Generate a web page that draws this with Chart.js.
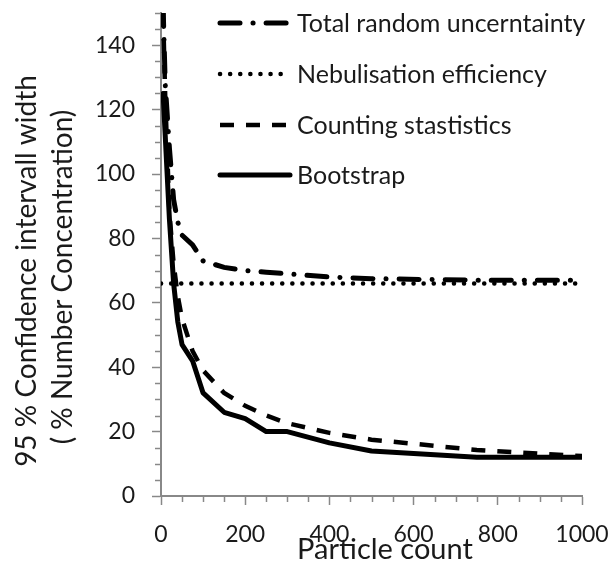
<!DOCTYPE html>
<html>
<head>
<meta charset="utf-8">
<script src="https://cdn.jsdelivr.net/npm/chart.js@4.4.1/dist/chart.umd.min.js"></script>
<style>
html,body{margin:0;padding:0;background:#fff;}
#wrap{width:611px;height:564px;position:relative;}
</style>
</head>
<body>
<div id="wrap"><canvas id="c" width="611" height="564"></canvas></div>
<script>
const particleCounts = [5, 10, 20, 30, 40, 50, 75, 100, 150, 200, 250, 300, 400, 500, 750, 1000];
const totalRandom    = [152, 128, 108, 92, 85, 81, 78, 73, 71, 70, 69.5, 69, 68, 67.5, 67, 67];
const nebCounts      = [0, 1000];
const nebEfficiency  = [66, 66];
const countingStats  = [150, 124, 88, 72, 62, 55, 45, 39, 32, 28, 25, 22.6, 19.6, 17.5, 14.3, 12.4];
const bootstrap      = [125, 112, 86, 66, 54, 47, 42, 32, 26, 24, 20, 20, 16.5, 14, 12, 12];
const seriesNames = ['Total random uncerntainty', 'Nebulisation efficiency', 'Counting stastistics', 'Bootstrap'];
const yTitle = ['95 % Confidence intervall width', '( % Number Concentration)'];
const xTitle = 'Particle count';

const pts = (xs, ys) => xs.map((x, i) => ({x: x, y: ys[i]}));
const FONT = 'Lato';
const AXIS = '#888888';
const TEXT = '#1a1a1a';

const legendPlugin = {
  id: 'sideLegend',
  afterDraw(chart) {
    const ctx = chart.ctx;
    const x0 = 220, x1 = 290, tx = 297;
    const rows = [23, 74, 125, 175];
    chart.data.datasets.forEach((ds, i) => {
      const y = rows[i];
      ctx.save();
      ctx.strokeStyle = ds.borderColor;
      ctx.lineWidth = ds.borderWidth;
      ctx.lineCap = ds.borderCapStyle || 'butt';
      ctx.setLineDash(ds.borderDash || []);
      ctx.beginPath();
      ctx.moveTo(x0, y);
      ctx.lineTo(x1, y);
      ctx.stroke();
      ctx.restore();
      ctx.save();
      ctx.fillStyle = TEXT;
      ctx.font = '25px ' + FONT;
      ctx.textBaseline = 'middle';
      ctx.fillText(ds.label, tx, y + 1);
      ctx.restore();
    });
  }
};

const titlesPlugin = {
  id: 'axisTitles',
  afterDraw(chart) {
    const ctx = chart.ctx;
    ctx.save();
    ctx.fillStyle = TEXT;
    ctx.textAlign = 'center';
    ctx.textBaseline = 'alphabetic';
    ctx.font = '28px ' + FONT;
    const yPos = [[36, 271], [72, 277]];
    yTitle.forEach((t, i) => {
      ctx.save();
      ctx.translate(yPos[i][0], yPos[i][1]);
      ctx.rotate(-Math.PI / 2);
      ctx.fillText(t, 0, 0);
      ctx.restore();
    });
    ctx.font = '29px ' + FONT;
    ctx.fillText(xTitle, 385, 559);
    ctx.restore();
  }
};

const minorTicks = {
  id: 'minorTicks',
  afterDraw(chart) {
    const ctx = chart.ctx;
    const ys = chart.scales.y, xs = chart.scales.x;
    ctx.save();
    ctx.strokeStyle = AXIS;
    ctx.lineWidth = 1.5;
    for (let v = 0; v <= 150; v += 5) {
      if (v % 20 === 0) continue;
      const p = Math.round(ys.getPixelForValue(v)) + 0.5;
      ctx.beginPath(); ctx.moveTo(ys.right - 6, p); ctx.lineTo(ys.right, p); ctx.stroke();
    }
    for (let v = 0; v <= 1000; v += 50) {
      if (v % 200 === 0) continue;
      const p = Math.round(xs.getPixelForValue(v)) + 0.5;
      ctx.beginPath(); ctx.moveTo(p, xs.top); ctx.lineTo(p, xs.top + 6); ctx.stroke();
    }
    ctx.restore();
  }
};

new Chart(document.getElementById('c'), {
  type: 'line',
  data: {
    datasets: [
      { label: seriesNames[0], data: pts(particleCounts, totalRandom), borderColor: '#000', borderWidth: 5,
        borderDash: [20, 13, 0.1, 13], borderCapStyle: 'round', pointRadius: 0, tension: 0 },
      { label: seriesNames[1], data: pts(nebCounts, nebEfficiency), borderColor: '#000', borderWidth: 4.5,
        borderDash: [0.1, 10], borderCapStyle: 'round', pointRadius: 0, tension: 0 },
      { label: seriesNames[2], data: pts(particleCounts, countingStats), borderColor: '#000', borderWidth: 4.5,
        borderDash: [14, 12], borderCapStyle: 'butt', pointRadius: 0, tension: 0 },
      { label: seriesNames[3], data: pts(particleCounts, bootstrap), borderColor: '#000', borderWidth: 5,
        borderCapStyle: 'round', borderJoinStyle: 'round', pointRadius: 0, tension: 0 }
    ]
  },
  options: {
    responsive: false,
    animation: false,
    devicePixelRatio: 1,
    layout: { padding: { top: 13, right: 29, left: 0, bottom: 0 } },
    plugins: { legend: { display: false }, tooltip: { enabled: false } },
    scales: {
      x: {
        type: 'linear', min: 0, max: 1000,
        border: { color: AXIS, width: 2 },
        grid: { drawOnChartArea: false, color: AXIS, tickLength: 9, tickWidth: 1.5 },
        ticks: { stepSize: 200, color: TEXT, font: { family: FONT, size: 23 }, padding: 16, maxRotation: 0,
                 callback: (v) => String(v) },
        title: { display: false },
        afterFit(s) { s.height = 68; s.paddingLeft = 0; s.paddingRight = 0; }
      },
      y: {
        type: 'linear', min: 0, max: 150,
        border: { color: AXIS, width: 2 },
        grid: { drawOnChartArea: false, tickLength: 9, tickWidth: 1.5,
                tickColor: (c) => (c.tick && c.tick.value % 20 === 0) ? AXIS : 'rgba(0,0,0,0)' },
        ticks: { stepSize: 20, color: TEXT, font: { family: FONT, size: 23 }, padding: 17,
                 callback: (v) => (v % 20 === 0 ? String(v) : '') },
        title: { display: false },
        afterFit(s) { s.width = 161; s.paddingTop = 0; s.paddingBottom = 0; }
      }
    }
  },
  plugins: [legendPlugin, minorTicks, titlesPlugin]
});
</script>
</body>
</html>
